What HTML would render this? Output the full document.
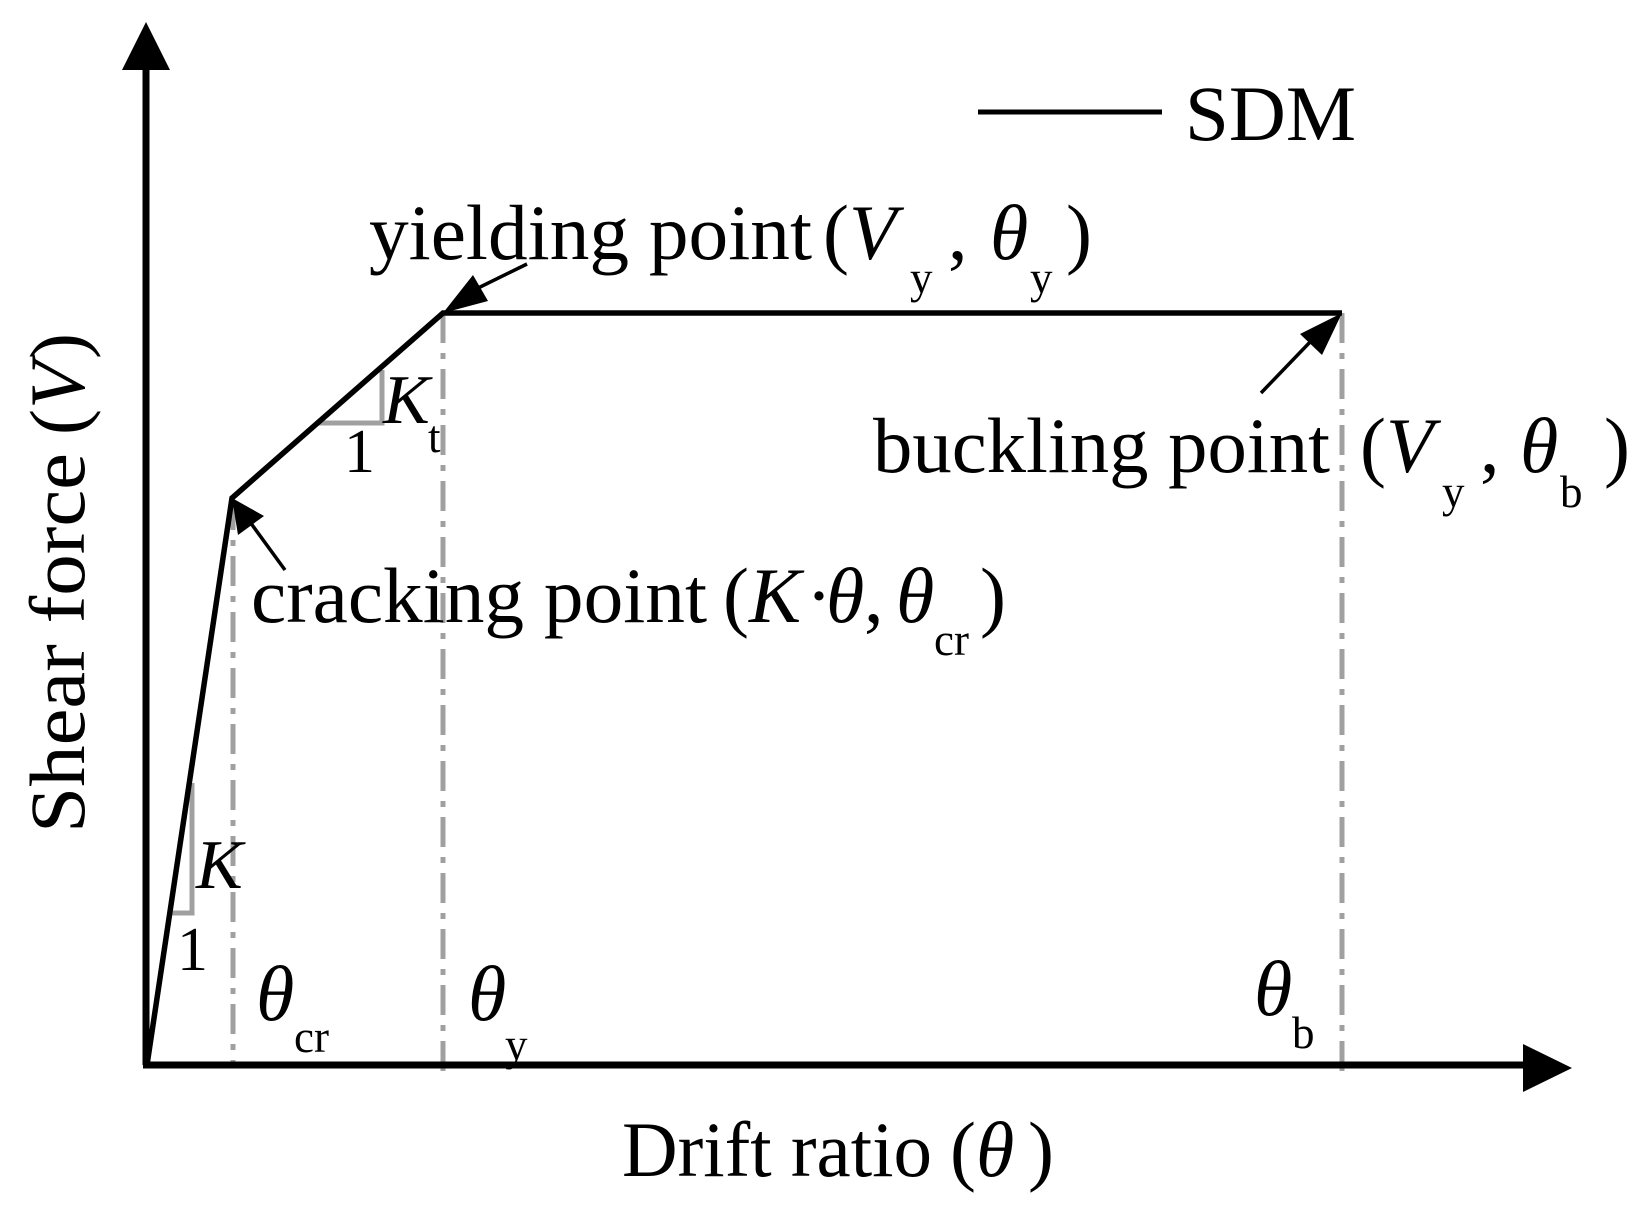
<!DOCTYPE html>
<html><head><meta charset="utf-8"><style>
html,body{margin:0;padding:0;background:#fff;}
svg{display:block;}
text{font-family:"Liberation Serif",serif;fill:#000;}
.i{font-style:italic;}
</style></head><body>
<svg width="1646" height="1215" viewBox="0 0 1646 1215" xmlns="http://www.w3.org/2000/svg">
<!-- dashed guides -->
<g stroke="#a0a0a0" stroke-width="5" fill="none" stroke-dasharray="30,10,6,10">
<line x1="233" y1="500" x2="233" y2="1065"/>
<line x1="443" y1="313" x2="443" y2="1072"/>
<line x1="1342" y1="313" x2="1342" y2="1072"/>
</g>
<!-- slope triangles -->
<g stroke="#a0a0a0" stroke-width="5" fill="none">
<polyline points="168,913 192,913 192,783"/>
<polyline points="319,423 382,423 382,370"/>
</g>
<!-- axes -->
<g stroke="#000" stroke-width="7" fill="none">
<line x1="146" y1="1065" x2="146" y2="65"/>
<line x1="143" y1="1065" x2="1530" y2="1065"/>
</g>
<polygon points="146,22 122,70 170,70" fill="#000"/>
<polygon points="1572,1068 1523,1044 1523,1092" fill="#000"/>
<!-- curve -->
<polyline points="147,1065 232,498 443,313 1342,313" stroke="#000" stroke-width="5.5" fill="none" stroke-linejoin="miter"/>
<!-- legend -->
<line x1="978" y1="112" x2="1162" y2="112" stroke="#000" stroke-width="5"/>
<text x="1185" y="140" font-size="78" textLength="171" lengthAdjust="spacingAndGlyphs">SDM</text>
<!-- arrows -->
<g stroke="#000" stroke-width="3.5">
<line x1="527" y1="264" x2="470" y2="292"/>
<line x1="285" y1="570" x2="250" y2="522"/>
<line x1="1261" y1="393" x2="1312" y2="340"/>
</g>
<polygon points="443,313 473,275 488,301" fill="#000"/>
<polygon points="232,498 238,535 264,516" fill="#000"/>
<polygon points="1342,313 1300,334 1322,355" fill="#000"/>
<!-- yielding label -->
<text x="369" y="259" font-size="78" textLength="443" lengthAdjust="spacingAndGlyphs">yielding point</text>
<text x="823" y="259" font-size="78">(</text>
<text x="849" y="259" font-size="78" class="i">V</text>
<text x="910" y="293" font-size="45">y</text>
<text x="948" y="259" font-size="78">,</text>
<text x="990" y="259" font-size="78" class="i">θ</text>
<text x="1030" y="293" font-size="45">y</text>
<text x="1066" y="259" font-size="78">)</text>
<!-- buckling label -->
<text x="873" y="472" font-size="78" textLength="457" lengthAdjust="spacingAndGlyphs">buckling point</text>
<text x="1360" y="472" font-size="78">(</text>
<text x="1386" y="472" font-size="78" class="i">V</text>
<text x="1442" y="507" font-size="45">y</text>
<text x="1480" y="472" font-size="78">,</text>
<text x="1520" y="472" font-size="78" class="i">θ</text>
<text x="1560" y="507" font-size="45">b</text>
<text x="1604" y="472" font-size="78">)</text>
<!-- cracking label -->
<text x="251" y="622" font-size="78" textLength="456" lengthAdjust="spacingAndGlyphs">cracking point</text>
<text x="723" y="622" font-size="78">(</text>
<text x="749" y="622" font-size="78" class="i">K</text>
<text x="806" y="622" font-size="78">·</text>
<text x="826" y="622" font-size="78" class="i">θ</text>
<text x="864" y="622" font-size="78">,</text>
<text x="896" y="622" font-size="78" class="i">θ</text>
<text x="934" y="655" font-size="45">cr</text>
<text x="980" y="622" font-size="78">)</text>
<!-- slope labels -->
<text x="196" y="888" font-size="70" class="i">K</text>
<text x="177" y="970" font-size="62">1</text>
<text x="383" y="423" font-size="70" class="i">K</text>
<text x="428" y="452" font-size="45">t</text>
<text x="344" y="472" font-size="62">1</text>
<!-- axis tick labels -->
<text x="256" y="1020" font-size="78" class="i">θ</text>
<text x="294" y="1052" font-size="45">cr</text>
<text x="468" y="1020" font-size="78" class="i">θ</text>
<text x="505" y="1060" font-size="45">y</text>
<text x="1254" y="1015" font-size="78" class="i">θ</text>
<text x="1292" y="1048" font-size="45">b</text>
<!-- axis titles -->
<text x="622" y="1176" font-size="78" textLength="310" lengthAdjust="spacingAndGlyphs">Drift ratio</text>
<text x="950" y="1176" font-size="78">(</text>
<text x="976" y="1176" font-size="78" class="i">θ</text>
<text x="1028" y="1176" font-size="78">)</text>
<g transform="translate(84,833) rotate(-90)">
<text x="0" y="0" font-size="78" textLength="380" lengthAdjust="spacingAndGlyphs">Shear force</text>
<text x="398" y="0" font-size="78">(</text>
<text x="424" y="0" font-size="78" class="i">V</text>
<text x="474" y="0" font-size="78">)</text>
</g>
</svg>
</body></html>
